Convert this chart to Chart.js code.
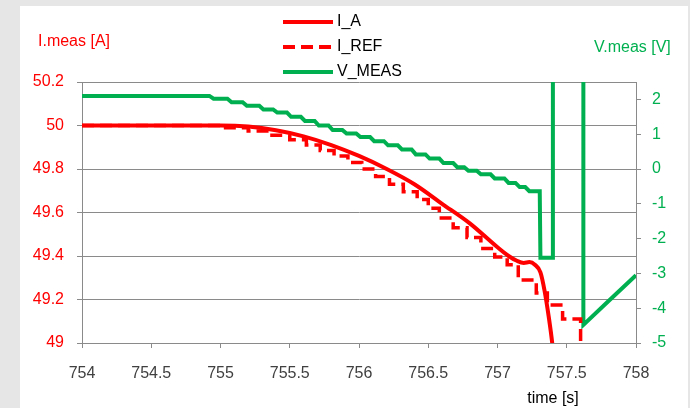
<!DOCTYPE html>
<html>
<head>
<meta charset="utf-8">
<script src="https://cdn.jsdelivr.net/npm/chart.js@4.4.0/dist/chart.umd.min.js"></script>
<style>
  html, body { margin: 0; padding: 0; background: #e6e6e6; }
  #wrap { width: 690px; height: 408px; }
</style>
</head>
<body>
<div id="wrap"><canvas id="chart" width="690" height="408"></canvas></div>
<script>
// Measured current (smooth), reference current (quantised, stepped) and voltage
const timeIA = [754.0, 754.5, 755.0, 755.2, 755.4, 755.6, 755.8, 756.0, 756.2, 756.4, 756.6, 756.8,
  757.0, 757.08, 757.14, 757.19, 757.23, 757.27, 757.31, 757.34, 757.37, 757.395, 757.41];
const valuesIA = [50.0, 50.0, 50.0, 49.995, 49.978, 49.95, 49.91, 49.86, 49.80, 49.73, 49.64, 49.55,
  49.44, 49.40, 49.378, 49.368, 49.372, 49.36, 49.325, 49.24, 49.12, 49.0, 48.9];

const timeIREF = [754.0, 755.0, 755.2, 755.35, 755.5, 755.62, 755.72, 755.82, 755.92, 756.02, 756.12,
  756.22, 756.32, 756.42, 756.5, 756.58, 756.68, 756.78, 756.88, 756.98, 757.07, 757.15, 757.28,
  757.36, 757.47, 757.6, 757.61];
const valuesIREF = [50.0, 50.0, 49.99, 49.975, 49.955, 49.935, 49.91, 49.885, 49.86, 49.83, 49.8,
  49.765, 49.73, 49.695, 49.66, 49.62, 49.575, 49.53, 49.485, 49.435, 49.395, 49.36, 49.29,
  49.23, 49.175, 49.11, 48.9];

// Voltage staircase: each level is given by where it starts and ends
const timeVMEAS = [754.0, 754.92, 754.95, 755.05, 755.08, 755.16, 755.19, 755.28, 755.31, 755.38,
  755.41, 755.48, 755.51, 755.58, 755.61, 755.68, 755.71, 755.78, 755.81, 755.88, 755.91, 755.98,
  756.01, 756.08, 756.11, 756.18, 756.21, 756.28, 756.31, 756.38, 756.41, 756.48, 756.51, 756.58,
  756.61, 756.68, 756.71, 756.76, 756.79, 756.85, 756.88, 756.95, 756.98, 757.05, 757.08, 757.13,
  757.16, 757.2, 757.23, 757.305, 757.31, 757.4, 757.4, 757.62, 757.62, 757.8, 758.0];
const valuesVMEAS = [2.1, 2.1, 2.02, 2.02, 1.92, 1.92, 1.82, 1.82, 1.71, 1.71,
  1.62, 1.62, 1.5, 1.5, 1.38, 1.38, 1.25, 1.25, 1.12, 1.12, 1.02, 1.02,
  0.92, 0.92, 0.8, 0.8, 0.68, 0.68, 0.56, 0.56, 0.42, 0.42, 0.3, 0.3,
  0.17, 0.17, 0.05, 0.05, -0.05, -0.05, -0.15, -0.15, -0.27, -0.27, -0.4, -0.4,
  -0.52, -0.52, -0.64, -0.64, -2.55, -2.55, 9, 9, -4.48, -3.8, -3.05];

const seriesLabels = ['I_A', 'I_REF', 'V_MEAS'];
const currentTicks = [49, 49.2, 49.4, 49.6, 49.8, 50, 50.2];
const voltageTicks = [-5, -4, -3, -2, -1, 0, 1, 2];

const RED = '#ff0000';
const GREEN = '#00b050';
const GRID = '#8a8a8a';

const toPoints = (xs, ys) => xs.map((x, i) => ({ x, y: ys[i] }));
const fmt = v => String(+v.toFixed(1));

Chart.defaults.font.family = "'Liberation Sans', Arial, sans-serif";
Chart.defaults.font.size = 16;

// Background panel, axis titles and the stacked legend
const decorations = {
  id: 'decorations',
  beforeDraw(chart) {
    const c = chart.ctx;
    c.save();
    c.fillStyle = '#e6e6e6';
    c.fillRect(0, 0, chart.width, chart.height);
    c.fillStyle = '#ffffff';
    c.fillRect(20, 6, 668, chart.height - 6);
    c.restore();
  },
  afterDraw(chart) {
    const c = chart.ctx;
    c.save();
    c.font = "16px 'Liberation Sans', Arial, sans-serif";
    c.textBaseline = 'middle';
    c.textAlign = 'left';
    c.fillStyle = RED;
    c.fillText('I.meas [A]', 38, 42);
    c.fillStyle = GREEN;
    c.fillText('V.meas [V]', 594, 48);
    c.fillStyle = '#000';
    c.textAlign = 'center';
    c.fillText('time [s]', 553, 399);

    chart.data.datasets.forEach((ds, i) => {
      const y = 22 + i * 25;
      c.beginPath();
      c.strokeStyle = ds.borderColor;
      c.lineWidth = 4;
      c.setLineDash(ds.borderDash || []);
      c.moveTo(283, y);
      c.lineTo(333, y);
      c.stroke();
      c.setLineDash([]);
      c.fillStyle = '#000';
      c.textAlign = 'left';
      c.fillText(ds.label, 337, y);
    });
    c.restore();
  }
};

new Chart(document.getElementById('chart'), {
  type: 'line',
  plugins: [decorations],
  data: {
    datasets: [
      {
        label: seriesLabels[0],
        data: toPoints(timeIA, valuesIA),
        yAxisID: 'y',
        borderColor: RED,
        borderWidth: 4,
        cubicInterpolationMode: 'monotone',
        pointRadius: 0,
        clip: 0
      },
      {
        label: seriesLabels[1],
        data: toPoints(timeIREF, valuesIREF),
        yAxisID: 'y',
        borderColor: RED,
        borderWidth: 3.5,
        borderDash: [12, 6],
        stepped: 'after',
        pointRadius: 0,
        clip: 0
      },
      {
        label: seriesLabels[2],
        data: toPoints(timeVMEAS, valuesVMEAS),
        yAxisID: 'y1',
        borderColor: GREEN,
        borderWidth: 4,
        pointRadius: 0,
        clip: 0
      }
    ]
  },
  options: {
    responsive: false,
    animation: false,
    layout: { padding: { top: 82, left: 0, right: 0, bottom: 0 } },
    plugins: {
      legend: { display: false },
      tooltip: { enabled: false }
    },
    scales: {
      x: {
        type: 'linear',
        min: 754,
        max: 758,
        grid: { drawOnChartArea: false, color: GRID, tickLength: 5 },
        border: { color: GRID },
        ticks: {
          stepSize: 0.5,
          color: '#404040',
          padding: 16,
          maxRotation: 0,
          autoSkip: false,
          callback: v => fmt(v)
        },
        afterFit(scale) { scale.height = 65; }
      },
      y: {
        position: 'left',
        min: 49,
        max: 50.2,
        grid: { color: GRID, tickLength: 5 },
        border: { color: GRID },
        afterBuildTicks(scale) { scale.ticks = currentTicks.map(value => ({ value })); },
        ticks: { color: RED, padding: 13, callback: v => fmt(v) },
        afterFit(scale) { scale.width = 82; }
      },
      y1: {
        position: 'right',
        min: -5,
        max: 2.5,
        grid: { drawOnChartArea: false, color: GRID, tickLength: 5 },
        border: { color: GRID },
        afterBuildTicks(scale) { scale.ticks = voltageTicks.map(value => ({ value })); },
        ticks: { color: GREEN, padding: 11, callback: v => fmt(v) },
        afterFit(scale) { scale.width = 54; }
      }
    }
  }
});
</script>
</body>
</html>
